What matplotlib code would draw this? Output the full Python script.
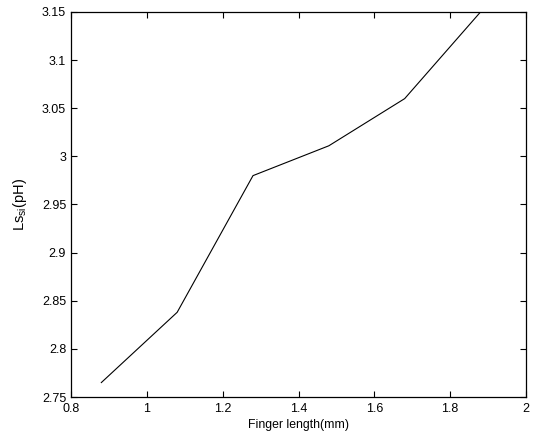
import matplotlib.pyplot as plt

# finger length (mm) vs Ls_si (pH)
finger_len = [0.88, 1.08, 1.28, 1.48, 1.68, 1.88]
ls_si = [2.765, 2.838, 2.980, 3.011, 3.060, 3.150]

xticks = [0.8, 1, 1.2, 1.4, 1.6, 1.8, 2]
xtick_labels = ['0.8', '1', '1.2', '1.4', '1.6', '1.8', '2']
yticks = [2.75, 2.8, 2.85, 2.9, 2.95, 3, 3.05, 3.1, 3.15]
ytick_labels = ['2.75', '2.8', '2.85', '2.9', '2.95', '3', '3.05', '3.1', '3.15']

plt.rcParams['font.family'] = ['Liberation Sans', 'DejaVu Sans']

fig = plt.figure(figsize=(5.36, 4.38), dpi=100)
ax = fig.add_axes([71/536, 1 - 397/438, (526-71)/536, (397-12)/438])

ax.plot(finger_len, ls_si, color='black', linewidth=0.8)

ax.set_xlim(0.8, 2)
ax.set_ylim(2.75, 3.15)
ax.set_xticks(xticks)
ax.set_xticklabels(xtick_labels)
ax.set_yticks(yticks)
ax.set_yticklabels(ytick_labels)
ax.tick_params(axis='x', pad=4)
ax.tick_params(direction='in', top=True, right=True, length=4, width=0.8,
               labelsize=9)
for s in ax.spines.values():
    s.set_linewidth(0.9)

ax.set_xlabel('Finger length(mm)', fontsize=8.8, labelpad=3)
ax.set_ylabel('Ls$_{\\mathregular{ si}}$(pH)', fontsize=10.5, labelpad=9)

fig.savefig('out.png', dpi=100)
